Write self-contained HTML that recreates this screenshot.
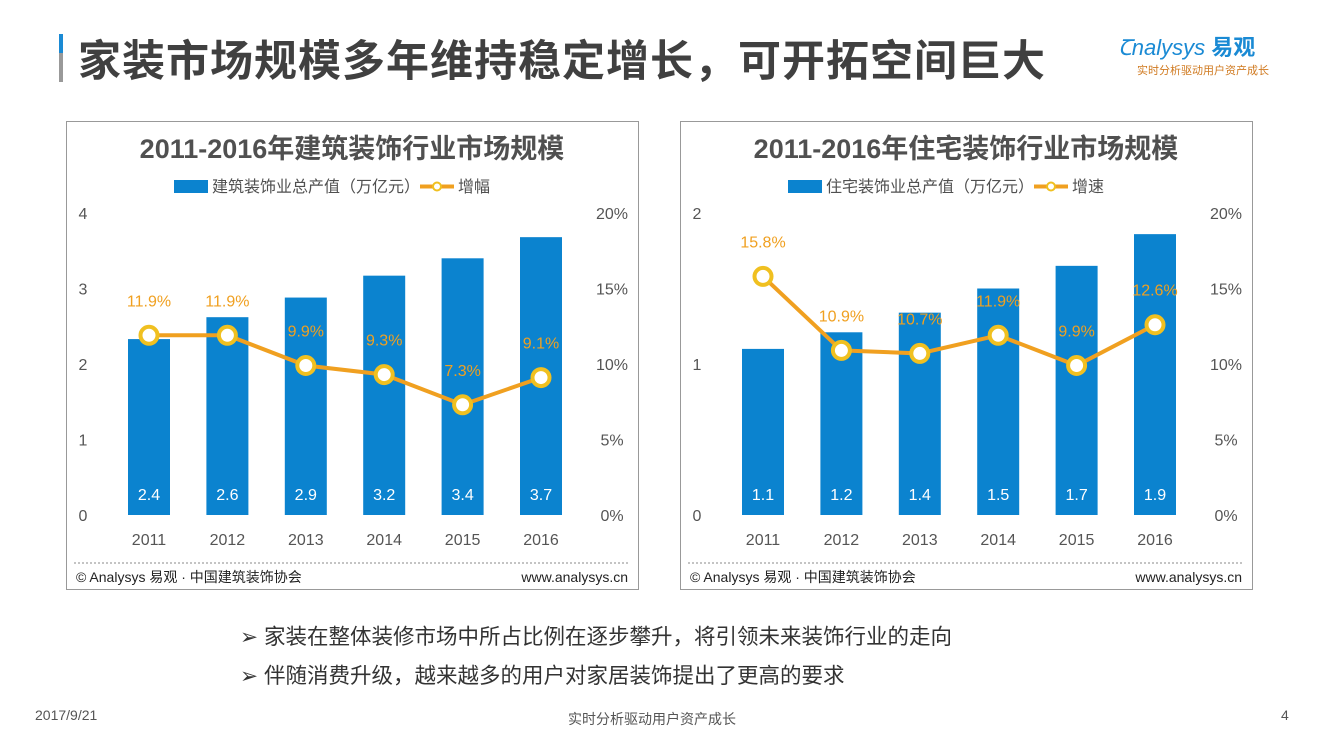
<!DOCTYPE html>
<html><head><meta charset="utf-8">
<style>
body{margin:0;width:1320px;height:743px;background:#fff;overflow:hidden;position:relative;font-family:"Liberation Sans","Noto Sans CJK SC",sans-serif;}
.abs{position:absolute;}
</style></head>
<body>
<div class="abs" style="left:59px;top:34px;width:4px;height:48px;background:linear-gradient(#1a8ad4 0 40%,#999 40%)"></div>
<div class="abs" style="left:78px;top:27px;font-size:43px;font-weight:bold;color:#404040;letter-spacing:1px;white-space:nowrap;">家装市场规模多年维持稳定增长，可开拓空间巨大</div>
<div class="abs" style="left:1118px;top:30px;font-size:22px;color:#1a8ad4;font-style:italic;">Ꞇnalysys <b style="font-style:normal">易观</b></div>
<div class="abs" style="left:1137px;top:62px;font-size:11px;color:#d07a20;">实时分析驱动用户资产成长</div>

<svg class="abs" style="left:0;top:0" width="1320" height="743" id="svg"></svg>

<div class="abs" style="left:240px;top:620px;font-size:21.5px;color:#333;white-space:nowrap;">➢ 家装在整体装修市场中所占比例在逐步攀升，将引领未来装饰行业的走向</div>
<div class="abs" style="left:240px;top:659px;font-size:21.5px;color:#333;white-space:nowrap;">➢ 伴随消费升级，越来越多的用户对家居装饰提出了更高的要求</div>
<div class="abs" style="left:35px;top:707px;font-size:14px;color:#555;">2017/9/21</div>
<div class="abs" style="left:568px;top:709px;font-size:14px;color:#555;">实时分析驱动用户资产成长</div>
<div class="abs" style="left:1281px;top:707px;font-size:14px;color:#555;">4</div>

<script>
const years=["2011","2012","2013","2014","2015","2016"];
const c1Values=[2.33,2.62,2.88,3.17,3.40,3.68];
const c1Labels=["2.4","2.6","2.9","3.2","3.4","3.7"];
const c1Growth=[11.9,11.9,9.9,9.3,7.3,9.1];
const c1LeftTicks=["0","1","2","3","4"];
const c2Values=[1.10,1.21,1.34,1.50,1.65,1.86];
const c2Labels=["1.1","1.2","1.4","1.5","1.7","1.9"];
const c2Growth=[15.8,10.9,10.7,11.9,9.9,12.6];
const c2LeftTicks=["0","1","2"];
const rightTicks=["0%","5%","10%","15%","20%"];

const NS="http://www.w3.org/2000/svg";
const svg=document.getElementById('svg');
function mk(tag,attrs,text,name){const e=document.createElementNS(NS,tag);for(const k in attrs)e.setAttribute(k,attrs[k]);if(text!==undefined)e.textContent=text;


svg.appendChild(e);return e;}
function chart(ox,title,legBar,legLine,vals,labs,growth,lt,lmax){
  const y0=515,y1=213;
  const yL=v=>y0-(v/lmax)*(y0-y1);
  const yR=p=>y0-(p/20)*(y0-y1);
  const xC=i=>ox+83+i*78.4;
  mk('rect',{x:ox+0.5,y:121.5,width:572,height:468,fill:'none',stroke:'#999'},undefined,'chart-frame');
  mk('text',{x:ox+286,y:158,'text-anchor':'middle','font-size':27,'font-weight':'bold',fill:'#505050'},title,'chart-title');
  mk('rect',{x:ox+108,y:180,width:34,height:13,fill:'#0b83cf'},undefined,'legend-bar-swatch');
  mk('text',{x:ox+146,y:192,'font-size':16,fill:'#505050'},legBar,'legend-bar-label');
  mk('line',{x1:ox+354,y1:186.5,x2:ox+388,y2:186.5,stroke:'#f0a020','stroke-width':4},undefined,'legend-line-swatch');
  mk('circle',{cx:ox+371,cy:186.5,r:4,fill:'#fff',stroke:'#f0c020','stroke-width':2},undefined,'legend-line-marker');
  mk('text',{x:ox+392,y:192,'font-size':16,fill:'#505050'},legLine,'legend-line-label');
  lt.forEach((t,i)=>mk('text',{x:ox+17,y:yL(+t)+6,'text-anchor':'middle','font-size':16,fill:'#555'},t,'y-axis-left-tick'));
  rightTicks.forEach(t=>mk('text',{x:ox+546,y:yR(parseFloat(t))+6,'text-anchor':'middle','font-size':16,fill:'#555'},t,'y-axis-right-tick'));
  vals.forEach((v,i)=>{
    mk('rect',{x:xC(i)-21,y:yL(v),width:42,height:y0-yL(v),fill:'#0b83cf'},undefined,'bar-'+years[i]);
    mk('text',{x:xC(i),y:500,'text-anchor':'middle','font-size':16,fill:'#fff'},labs[i],'bar-value-label');
    mk('text',{x:xC(i),y:545,'text-anchor':'middle','font-size':16,fill:'#555'},years[i],'x-axis-tick');
  });
  mk('polyline',{points:growth.map((g,i)=>xC(i)+','+yR(g)).join(' '),fill:'none',stroke:'#f0a020','stroke-width':4},undefined,'growth-line');
  growth.forEach((g,i)=>{
    mk('circle',{cx:xC(i),cy:yR(g),r:8.5,fill:'#fff',stroke:'#f0c020','stroke-width':4},undefined,'growth-point');
    mk('text',{x:xC(i),y:yR(g)-29,'text-anchor':'middle','font-size':16,fill:'#f0a020'},g.toFixed(1)+'%','growth-label');
  });
  mk('line',{x1:ox+8,y1:563,x2:ox+564,y2:563,stroke:'#888','stroke-dasharray':'2,2'},undefined,'footer-divider');
  mk('text',{x:ox+10,y:582,'font-size':14,fill:'#222'},'© Analysys 易观 · 中国建筑装饰协会','source-note');
  mk('text',{x:ox+562,y:582,'text-anchor':'end','font-size':14,fill:'#222'},'www.analysys.cn','source-url');
}
chart(66,'2011-2016年建筑装饰行业市场规模','建筑装饰业总产值（万亿元）','增幅',c1Values,c1Labels,c1Growth,c1LeftTicks,4);
chart(680,'2011-2016年住宅装饰行业市场规模','住宅装饰业总产值（万亿元）','增速',c2Values,c2Labels,c2Growth,c2LeftTicks,2);
</script>
</body></html>
